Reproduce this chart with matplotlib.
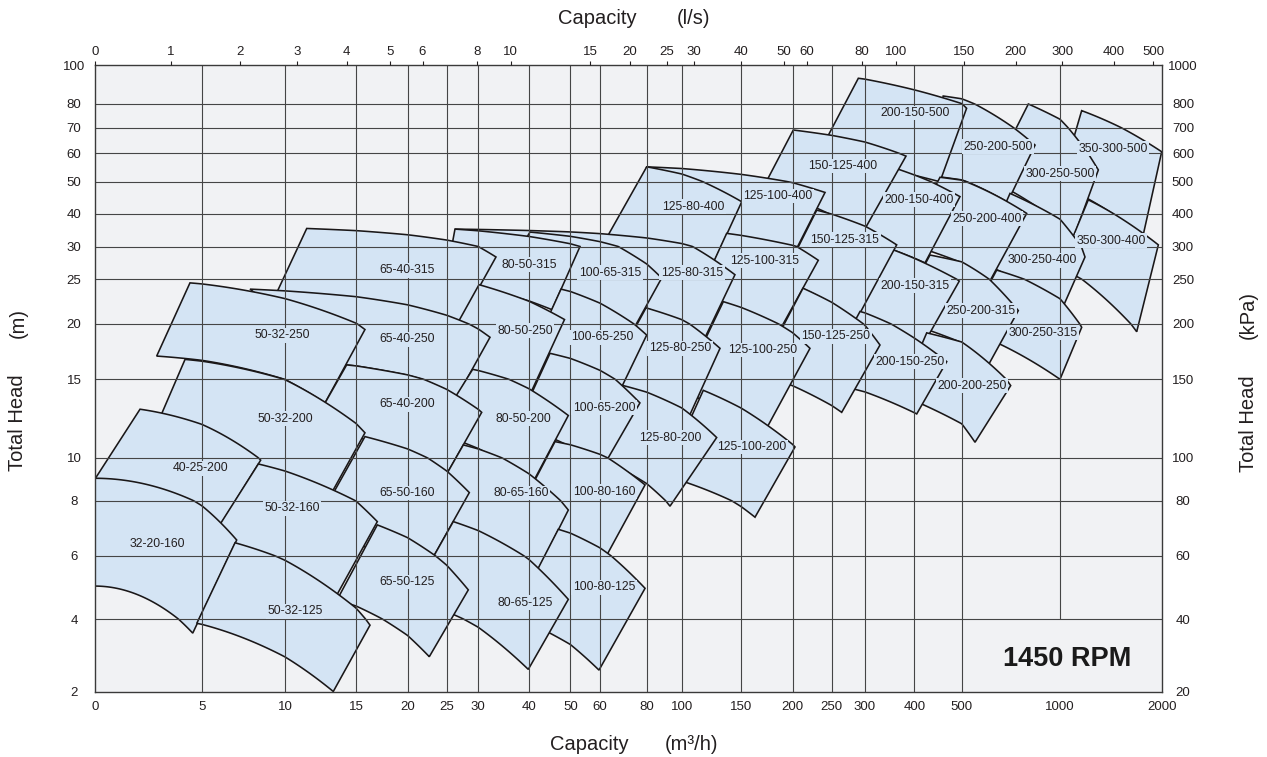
import numpy as np
import matplotlib
matplotlib.use("Agg")
import matplotlib.pyplot as plt
from matplotlib.patches import Polygon

plt.rcParams['font.family'] = ['Liberation Sans', 'DejaVu Sans']

# ------------------------------------------------------------------ data
# axis tick values
Q_TICKS = [0, 5, 10, 15, 20, 25, 30, 40, 50, 60, 80, 100, 150, 200, 250, 300, 400, 500, 1000, 2000]   # m3/h
LS_TICKS = [0, 1, 2, 3, 4, 5, 6, 8, 10, 15, 20, 25, 30, 40, 50, 60, 80, 100, 150, 200, 300, 400, 500]  # l/s
H_TICKS = [2, 4, 6, 8, 10, 15, 20, 25, 30, 40, 50, 60, 70, 80, 100]                                    # m
KPA_TICKS = [20, 40, 60, 80, 100, 150, 200, 250, 300, 400, 500, 600, 700, 800, 1000]                  # kPa

# pump models; each region: corners (Q m3/h, H m); top/bottom edges are H-Q curves
MODELS = [
    '200-150-500', '250-200-500', '300-250-500', '350-300-500',
    '125-80-400', '125-100-400', '150-125-400', '200-150-400', '250-200-400', '300-250-400', '350-300-400',
    '65-40-315', '80-50-315', '100-65-315', '125-80-315', '125-100-315', '150-125-315', '200-150-315',
    '250-200-315', '300-250-315',
    '50-32-250', '65-40-250', '80-50-250', '100-65-250', '125-80-250', '125-100-250', '150-125-250',
    '200-150-250', '200-200-250',
    '40-25-200', '50-32-200', '65-40-200', '80-50-200', '100-65-200', '125-80-200', '125-100-200',
    '32-20-160', '50-32-160', '65-50-160', '80-65-160', '100-80-160',
    '50-32-125', '65-50-125', '80-65-125', '100-80-125',
]
TOP_LEFT = [
    (290, 93.2), (461, 84.1), (839, 80.0), (1213, 77.2),
    (80, 55.2), (80, 55.2), (201, 69.1), (340.6, 55.9), (454.2, 51.5), (745.7, 46.3), (1278.3, 44.3),
    (11.53, 35.5), (26.31, 35.3), (40.24, 34.4), (26.31, 35.3), (137.9, 34.0), (230.9, 41.1), (342.6, 29.9),
    (433.1, 28.7), (678, 26.4),
    (4.45, 24.6), (7.90, 23.9), (30.14, 24.4), (47.75, 23.9), (79.7, 21.8), (135.1, 22.5), (213.4, 24.0),
    (292.5, 21.4), (426.2, 19.2),
    (2.11, 13.1), (4.22, 16.8), (14.34, 16.3), (29.11, 15.9), (45.08, 17.35), (70.0, 14.6), (118.2, 14.3),
    (0, 9.05), (8.40, 9.72), (15.87, 11.36), (27.63, 10.83), (46.3, 11.04),
    (7.0, 6.47), (17.07, 7.12), (26.04, 7.24), (47.09, 6.96),
]
TOP_RIGHT = [
    (525, 78.2), (873, 63.2), (1377, 54.1), (2000, 60.6),
    (150.7, 43.7), (241.5, 46.6), (383.2, 59.0), (496.4, 45.3), (830.6, 40.1), (1245.8, 28.4), (1967, 30.5),
    (33.49, 28.4), (53.27, 30.0), (88.57, 25.2), (144.9, 25.7), (232.9, 27.9), (364.3, 30.5), (494.9, 24.8),
    (787.9, 21.5), (1213.4, 19.7),
    (15.87, 19.5), (32.31, 18.8), (48.6, 20.5), (80, 19.0), (132.3, 17.8), (222.3, 17.8), (330.4, 18.1),
    (468.4, 16.6), (749.2, 14.6),
    (8.54, 9.9), (15.87, 11.6), (30.67, 12.9), (49.52, 12.7), (77.1, 13.5), (129.5, 11.3), (203.2, 10.7),
    (7.1, 6.57), (17.07, 7.24), (28.58, 8.38), (49.52, 7.66), (79.3, 8.74),
    (16.36, 3.83), (28.42, 4.92), (49.52, 4.62), (79.3, 4.97),
]
BOTTOM_RIGHT = [
    (454, 49.9), (733, 43.6), (1118, 31.4), (1816, 33.2),
    (126.4, 27.3), (201.9, 28.9), (295.5, 33.8), (422.6, 27.5), (618.5, 23.8), (995, 20.9), (1754.2, 19.3),
    (26.31, 19.4), (45.57, 21.6), (73.7, 19.3), (117.1, 18.2), (185.0, 19.0), (286.5, 20.4), (418.4, 18.1),
    (623.6, 15.9), (1000, 15.0),
    (12.82, 13.5), (26.63, 13.9), (40.0, 13.9), (67.3, 13.9), (103.6, 12.2), (173.3, 11.7), (265.0, 12.9),
    (405.1, 12.8), (567.7, 11.0),
    (6.0, 7.0), (12.46, 7.52), (24.15, 8.69), (40.24, 8.6), (60, 9.34), (93.3, 7.8), (163.6, 7.4),
    (4.58, 3.61), (13.38, 4.54), (22.87, 5.77), (41.45, 5.36), (61.3, 5.80),
    (13.40, 2.0), (22.78, 2.96), (39.86, 2.61), (59.66, 2.59),
]
BOTTOM_LEFT = [
    (229, 57.6), (423, 52.3), (644, 50.5), (1000, 48.9),
    (62.1, 31.7), (70.7, 35.6), (170.4, 47.4), (292.5, 31.1), (381.1, 30.5), (593.1, 27.6), (1000, 26.7),
    (8.80, 20.7), (24.78, 24.6), (34.28, 24.7), (42.66, 24.0), (113.7, 23.1), (189.4, 24.9), (285.0, 20.7),
    (360.9, 20.4), (516.8, 19.5),
    (2.89, 17.1), (14.34, 16.3), (23.12, 15.9), (40.73, 17.4), (60.86, 14.4), (99.0, 14.2), (165.5, 15.3),
    (237.6, 14.83), (371.0, 14.0),
    (0, 9.02), (2.58, 11.1), (11.88, 12.0), (23.25, 11.6), (37.67, 12.1), (56.3, 10.2), (89.9, 9.1),
    (0, 5.04), (5.2, 6.28), (11.55, 6.57), (20.19, 6.57), (34.48, 6.39),
    (4.77, 3.88), (13.66, 4.60), (20.19, 4.60), (36.84, 4.06),
]
LABEL_AT = [
    (401.5, 76.2), (685, 62.5), (1000, 52.7), (1521, 61.7),
    (109.5, 42.1), (185.9, 45.5), (267, 55.5), (409.9, 44.3), (628.7, 38.4), (908.4, 27.9), (1501.5, 31.7),
    (19.95, 26.4), (40, 27.2), (64.3, 26.0), (108.7, 26.0), (173.3, 27.8), (270, 32.0), (401.5, 24.3),
    (598, 21.5), (913.5, 19.2),
    (9.82, 19.0), (19.95, 18.6), (39.2, 19.4), (60.9, 18.8), (99.0, 17.8), (171.4, 17.65), (256.5, 18.9),
    (391.3, 16.6), (552.4, 14.6),
    (4.97, 9.53), (10.0, 12.5), (19.95, 13.4), (38.8, 12.5), (61.7, 13.2), (93.3, 11.3), (160.7, 10.7),
    (2.91, 6.43), (10.5, 7.73), (19.95, 8.36), (38.4, 8.36), (61.7, 8.41),
    (10.7, 4.25), (19.95, 5.17), (39.2, 4.51), (61.7, 5.01),
]
SPEED = '1450 RPM'

# ------------------------------------------------------------------ layout / style
W, H = 1267, 757
AX_L, AX_R, AX_T, AX_B = 95.0, 1161.7, 65.0, 691.5
Q_TICK_PX = [95, 201.7, 285, 356, 407.5, 446.7, 478.3, 529, 570.3, 600, 646.7, 681.7, 741, 792.5,
             831.7, 865, 914.3, 961.7, 1060, 1161.7]
LS_TICK_PX = [95, 170.7, 240.4, 296.8, 346.8, 390.4, 422.5, 477.1, 510.7, 590.4, 629.6, 666.8, 693.6,
              740.7, 783.6, 806.8, 862.1, 896.1, 963.9, 1015.7, 1062.1, 1113.9, 1153.2]
H_TICK_PX = [691.5, 619, 555.7, 500.7, 458, 379.3, 324, 279.3, 246.5, 213.7, 181.5, 153.3, 127.7, 104, 65]

FILL = '#d4e4f4'
EDGE = '#1a1718'
GRID = '#454545'
BG = '#f1f2f4'
INK = '#231f20'


def fx(px):
    return px / W


def fy(py):
    return 1 - py / H


def piecewise(vals, px, horizontal=True):
    vals = np.asarray(vals, float)
    px = np.asarray(px, float)
    frac = (px - AX_L) / (AX_R - AX_L) if horizontal else (AX_B - px) / (AX_B - AX_T)

    def fwd(v):
        return np.interp(v, vals, frac)

    def inv(f):
        return np.interp(f, frac, vals)
    return fwd, inv


def hq_curve(p0, p1, n=80):
    (q0, h0), (q1, h1) = p0, p1
    k = (h0 - h1) / (q1 ** 2 - q0 ** 2)
    q = np.linspace(q0, q1, n)
    return np.column_stack([q, h0 + k * q0 ** 2 - k * q ** 2])


fig = plt.figure(figsize=(W / 100, H / 100), dpi=100)
fig.patch.set_facecolor('white')
ax = fig.add_axes([fx(AX_L), fy(AX_B), (AX_R - AX_L) / W, (AX_B - AX_T) / H])
ax.set_facecolor(BG)
ax.set_xscale('function', functions=piecewise(Q_TICKS, Q_TICK_PX))
ax.set_yscale('function', functions=piecewise(H_TICKS, H_TICK_PX, horizontal=False))

# regions: larger impeller first, then right to left (left ones overlap)
impeller = [int(m.split('-')[-1]) for m in MODELS]
order = sorted(range(len(MODELS)), key=lambda i: (-impeller[i], -TOP_RIGHT[i][0]))
for k, i in enumerate(order):
    top = hq_curve(TOP_LEFT[i], TOP_RIGHT[i])
    bot = hq_curve(BOTTOM_LEFT[i], BOTTOM_RIGHT[i])
    verts = np.vstack([top, bot[::-1]])
    ax.add_patch(Polygon(verts, closed=True, facecolor=FILL, edgecolor=EDGE, lw=1.15,
                         joinstyle='miter', zorder=1 + k * 1e-3))

# grid (drawn over the fills)
for q in Q_TICKS[1:-1]:
    ax.plot([q, q], [4 if q >= 1000 else H_TICKS[0], H_TICKS[-1]], color=GRID, lw=0.8,
            zorder=3, solid_capstyle='butt')
for h in H_TICKS[1:-1]:
    ax.plot([Q_TICKS[0], Q_TICKS[-1]], [h, h], color=GRID, lw=0.8, zorder=3, solid_capstyle='butt')

for name, (q, h) in zip(MODELS, LABEL_AT):
    ax.text(q, h, name, ha='center', va='center', fontsize=8.8, color=INK, zorder=4,
            bbox=dict(boxstyle='square,pad=0.12', fc=FILL, ec='none'))

ax.set_xlim(Q_TICKS[0], Q_TICKS[-1])
ax.set_ylim(H_TICKS[0], H_TICKS[-1])
ax.set_xticks(Q_TICKS)
ax.set_xticklabels([str(v) for v in Q_TICKS])
ax.set_yticks(H_TICKS)
ax.set_yticklabels([str(v) for v in H_TICKS])
ax.tick_params(axis='x', length=0, pad=6.5, labelsize=9.5, colors=INK)
ax.tick_params(axis='y', length=0, pad=15, labelsize=9.5, colors=INK)
for t in ax.get_yticklabels():
    t.set_horizontalalignment('center')
for s in ax.spines.values():
    s.set_color('#3a3a3a')
    s.set_linewidth(1.0)
    s.set_zorder(5)

# top axis: l/s
ls_vals = list(LS_TICKS)
ls_px = list(LS_TICK_PX)
ls_end = ls_vals[-1] + (AX_R - ls_px[-1]) * (ls_vals[-1] - ls_vals[-2]) / (ls_px[-1] - ls_px[-2])
axt = ax.twiny()
axt.set_xscale('function', functions=piecewise(ls_vals + [ls_end], ls_px + [AX_R]))
axt.set_xlim(0, ls_end)
axt.set_xticks(LS_TICKS)
axt.set_xticklabels([str(v) for v in LS_TICKS])
axt.tick_params(axis='x', length=3, width=0.8, direction='out', pad=2, labelsize=9.5,
                colors=INK)
for s in axt.spines.values():
    s.set_visible(False)

# right axis: kPa
axr = ax.twinx()
axr.set_yscale('function', functions=piecewise(KPA_TICKS, H_TICK_PX, horizontal=False))
axr.set_ylim(KPA_TICKS[0], KPA_TICKS[-1])
axr.set_yticks(KPA_TICKS)
axr.set_yticklabels([str(v) for v in KPA_TICKS])
axr.tick_params(axis='y', length=0, pad=15.3, labelsize=9.5, colors=INK)
for t in axr.get_yticklabels():
    t.set_horizontalalignment('center')
for s in axr.spines.values():
    s.set_visible(False)

# axis titles
tkw = dict(fontsize=14.5, color=INK, ha='center', va='center')
fig.text(fx(597), fy(19), 'Capacity', **tkw)
fig.text(fx(693.5), fy(19), '(l/s)', **tkw)
fig.text(fx(589), fy(745), 'Capacity', **tkw)
fig.text(fx(692), fy(745), '(m³/h)', **tkw)
fig.text(fx(18), fy(423), 'Total Head', rotation=90, **tkw)
fig.text(fx(18), fy(323), '(m)', rotation=90, **tkw)
fig.text(fx(1248), fy(424), 'Total Head', rotation=90, **tkw)
fig.text(fx(1248), fy(315), '(kPa)', rotation=90, **tkw)

fig.text(fx(1067), fy(659), SPEED, fontsize=19.5, fontweight='bold', color='#1a1a1a',
         family=['Liberation Sans Narrow', 'Liberation Sans', 'DejaVu Sans'],
         ha='center', va='center')

fig.savefig('out.png', dpi=100)
